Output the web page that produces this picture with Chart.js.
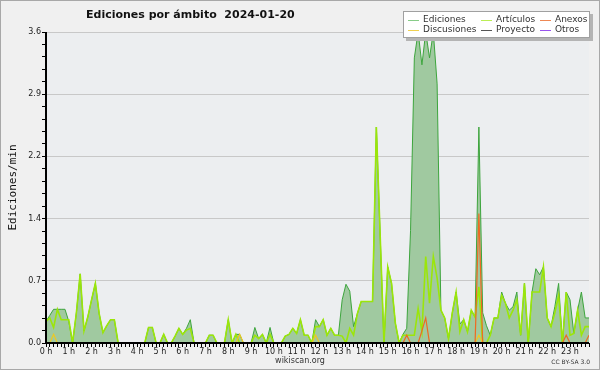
<!DOCTYPE html>
<html>
<head>
<meta charset="utf-8">
<script src="https://cdn.jsdelivr.net/npm/chart.js@4.4.1/dist/chart.umd.min.js"></script>
<style>
html, body { margin: 0; padding: 0; background: #f0f0f0; }
canvas { display: block; }
</style>
</head>
<body>
<canvas id="chart" width="600" height="370"></canvas>
<script>
// one value every 10 minutes, 0:00 -> 23:50 (144 slots)
const hourLabels = ['0 h','1 h','2 h','3 h','4 h','5 h','6 h','7 h','8 h','9 h','10 h','11 h',
  '12 h','13 h','14 h','15 h','16 h','17 h','18 h','19 h','20 h','21 h','22 h','23 h'];

const yTickLabels = ['0.0', '0.7', '1.4', '2.2', '2.9', '3.6'];

const ediciones = [
  0.25,0.32,0.39,0.39,0.39,0.39,0.25,0,0.35,0.80,0.14,0.30,
  0.50,0.69,0.34,0.12,0.20,0.27,0.27,0,0,0,0,0,
  0,0,0,0.18,0.18,0,0,0.10,0,0,0.08,0.17,
  0.10,0.17,0.27,0,0,0,0,0.09,0.09,0,0,0,
  0.27,0,0.10,0.10,0,0,0,0.18,0.05,0.10,0,0.18,
  0,0,0,0.08,0.10,0.17,0.11,0.27,0.09,0.09,0,0.27,
  0.19,0.27,0.09,0.17,0.09,0.09,0.50,0.68,0.60,0.19,0.34,0.48,
  0.48,0.48,0.48,2.50,1.25,0,0.88,0.69,0.23,0,0.10,0.17,
  1.30,3.30,3.60,3.22,3.60,3.30,3.60,3.00,0.38,0.29,0.05,0.35,
  0.59,0.22,0.27,0.13,0.38,0.30,2.50,0.35,0.20,0.09,0.29,0.29,
  0.59,0.46,0.38,0.42,0.59,0.09,0.69,0,0.59,0.86,0.79,0.88,
  0.29,0.19,0.42,0.69,0,0.59,0.50,0.11,0.38,0.59,0.29,0.29
];

const articulos = [
  0.25,0.29,0.18,0.39,0.27,0.27,0.27,0,0.35,0.80,0.14,0.30,
  0.50,0.69,0.34,0.12,0.20,0.27,0.27,0,0,0,0,0,
  0,0,0,0.18,0.18,0,0,0.10,0,0,0.08,0.17,
  0.10,0.15,0.17,0,0,0,0,0.09,0.09,0,0,0,
  0.27,0,0.10,0,0,0,0,0.09,0.05,0.10,0,0.10,
  0,0,0,0.08,0.10,0.17,0.11,0.27,0.09,0.09,0,0.19,
  0.19,0.27,0.09,0.17,0.09,0.09,0.08,0,0.17,0.09,0.34,0.48,
  0.48,0.48,0.48,2.50,1.25,0,0.88,0.69,0.23,0,0.09,0.09,
  0.09,0.09,0.40,0.13,1.00,0.46,1.00,0.75,0.38,0.29,0.05,0.35,
  0.59,0.13,0.27,0.13,0.38,0.30,0.65,0,0,0.09,0.29,0.29,
  0.55,0.46,0.29,0.38,0.50,0.09,0.69,0,0.59,0.59,0.59,0.88,
  0.29,0.19,0.35,0.55,0,0.59,0.09,0.11,0.38,0.09,0.19,0.19
];

const anexos = [
  0,0,0,0,0,0,0,0,0,0,0,0,
  0,0,0,0,0,0,0,0,0,0,0,0,
  0,0,0,0,0,0,0,0,0,0,0,0,
  0,0,0,0,0,0,0,0,0,0,0,0,
  0,0,0,0,0,0,0,0,0,0,0,0,
  0,0,0,0,0,0,0,0,0,0,0,0,
  0,0,0,0,0,0,0,0,0,0,0,0,
  0,0,0,0,0,0,0,0,0,0,0,0.09,
  0,0,0,0.14,0.29,0,0,0,0,0,0,0,
  0,0,0,0,0,0,1.50,0,0,0,0,0,
  0,0,0,0,0,0,0,0,0,0,0,0,
  0,0,0,0,0,0.09,0,0,0,0,0,0.09
];

const discusiones = [
  0,0,0.10,0,0,0,0,0,0,0,0,0,
  0,0,0,0,0,0,0,0,0,0,0,0,
  0,0,0,0,0,0,0,0,0,0,0,0,
  0,0,0,0,0,0,0,0,0,0,0,0,
  0,0,0,0.10,0,0,0,0,0,0,0,0,
  0,0,0,0,0,0,0,0,0,0,0,0.09,
  0,0,0,0,0,0,0,0,0,0,0,0,
  0,0,0,0,0,0,0,0,0,0,0,0,
  0,0,0,0,0,0,0,0,0,0,0,0,
  0,0,0,0,0,0,0.09,0,0,0,0,0,
  0,0,0,0,0,0,0,0,0,0,0,0,
  0,0,0,0,0,0,0,0,0,0,0,0
];

const proyecto = [
  0,0,0,0,0,0,0,0,0,0,0,0, 0,0,0,0,0,0,0,0,0,0,0,0,
  0,0,0,0,0,0,0,0,0,0,0,0, 0,0,0,0,0,0,0,0,0,0,0,0,
  0,0,0,0,0,0,0,0,0,0,0,0, 0,0,0,0,0,0,0,0,0,0,0,0,
  0,0,0,0,0,0,0,0,0,0,0,0, 0,0,0,0,0,0,0,0,0,0,0,0,
  0,0,0,0,0,0,0,0,0,0,0,0, 0,0,0,0,0,0,0,0,0,0,0,0,
  0,0,0,0,0,0,0,0,0,0,0,0, 0,0,0,0,0,0,0,0,0,0,0,0
];

const otros = [
  0,0,0,0,0,0,0,0,0,0,0,0, 0,0,0,0,0,0,0,0,0,0,0,0,
  0,0,0,0,0,0,0,0,0,0,0,0, 0,0,0,0,0,0,0,0,0,0,0,0,
  0,0,0,0,0,0,0,0,0,0,0,0, 0,0,0,0,0,0,0,0,0,0,0,0,
  0,0,0,0,0,0,0,0,0,0,0,0, 0,0,0,0,0,0,0,0,0,0,0,0,
  0,0,0,0,0,0,0,0,0,0,0,0, 0,0,0,0,0,0,0,0,0,0,0,0,
  0,0,0,0,0,0,0,0,0,0,0,0, 0,0,0,0,0,0,0,0,0,0,0,0
];

const toPoints = (arr) => arr.map((v, i) => ({x: i, y: v}));

const series = [
  {label: 'Ediciones',   data: ediciones,   color: '#3da53d', legend: '#88cc88', order: 6, width: 1, fill: true},
  {label: 'Artículos',   data: articulos,   color: '#9be60a', legend: '#bbee55', order: 3, width: 1.6},
  {label: 'Anexos',      data: anexos,      color: '#ee6a22', legend: '#ee8855', order: 1, width: 1.2},
  {label: 'Discusiones', data: discusiones, color: '#eec822', legend: '#f0d050', order: 2, width: 1.2},
  {label: 'Proyecto',    data: proyecto,    color: '#555555', legend: '#555555', order: 5, width: 1},
  {label: 'Otros',       data: otros,       color: '#9955ee', legend: '#9955ee', order: 4, width: 1}
];

const datasets = series.map(s => ({
  label: s.label,
  data: toPoints(s.data),
  borderColor: s.color,
  borderWidth: s.width,
  backgroundColor: s.fill ? '#a0c9a0' : s.color,
  fill: s.fill ? 'origin' : false,
  order: s.order,
  pointRadius: 0,
  tension: 0
}));

const decor = {
  id: 'decor',
  beforeDraw(chart) {
    const c = chart.ctx, a = chart.chartArea;
    c.save();
    c.fillStyle = '#f0f0f0';
    c.fillRect(0, 0, chart.width, chart.height);
    c.fillStyle = '#eceef0';
    c.fillRect(a.left, a.top, a.right - a.left, a.bottom - a.top);
    c.restore();
  },
  afterDraw(chart) {
    const c = chart.ctx, a = chart.chartArea;
    c.save();
    // axes lines drawn over the series so the zero lines sit under them
    c.strokeStyle = '#000';
    c.lineWidth = 2;
    c.beginPath();
    c.moveTo(a.left, a.top);
    c.lineTo(a.left, a.bottom);
    c.lineTo(a.right, a.bottom);
    c.stroke();

    // title
    c.fillStyle = '#111';
    c.font = 'bold 11px "DejaVu Sans"';
    c.textBaseline = 'alphabetic';
    c.textAlign = 'left';
    c.fillText('Ediciones por ámbito  2024-01-20', 86, 18);

    // y axis title
    c.save();
    c.translate(13, (a.top + a.bottom) / 2);
    c.rotate(-Math.PI / 2);
    c.textAlign = 'center';
    c.textBaseline = 'middle';
    c.font = '11px "DejaVu Sans Mono"';
    c.fillStyle = '#111';
    c.fillText('Ediciones/min', 0, 0);
    c.restore();

    // legend box
    c.fillStyle = '#b4b4b4';
    c.fillRect(406, 14, 187, 27);
    c.fillStyle = '#ffffff';
    c.fillRect(403, 11, 187, 27);
    c.strokeStyle = '#a0a0a0';
    c.lineWidth = 1;
    c.strokeRect(403.5, 11.5, 186, 26);
    const colX = [408, 481, 540];
    const rowY = [20, 30];
    c.font = '9px "DejaVu Sans"';
    c.textBaseline = 'middle';
    c.textAlign = 'left';
    series.forEach((s, i) => {
      const x = colX[i % 3], y = rowY[Math.floor(i / 3)];
      c.strokeStyle = s.legend;
      c.lineWidth = 1;
      c.beginPath();
      c.moveTo(x, y + 0.5);
      c.lineTo(x + 11, y + 0.5);
      c.stroke();
      c.fillStyle = '#333';
      c.fillText(s.label, x + 15, y);
    });

    // footer
    c.fillStyle = '#333';
    c.font = '8px "DejaVu Sans"';
    c.textAlign = 'center';
    c.textBaseline = 'middle';
    c.fillText('wikiscan.org', 300, 361);
    c.font = '6px "DejaVu Sans"';
    c.textAlign = 'right';
    c.fillText('CC BY-SA 3.0', 590, 362);

    // outer frame
    c.strokeStyle = '#a8a8a8';
    c.lineWidth = 1;
    c.strokeRect(0.5, 0.5, chart.width - 1, chart.height - 1);
    c.restore();
  }
};

const ctx = document.getElementById('chart').getContext('2d');

const myChart = new Chart(ctx, {
  type: 'line',
  data: { datasets },
  options: {
    responsive: false,
    animation: false,
    devicePixelRatio: 1,
    layout: { padding: { top: 32, right: 11, bottom: 0, left: 0 } },
    plugins: {
      legend: { display: false },
      tooltip: { enabled: false }
    },
    scales: {
      x: {
        type: 'linear',
        min: 0,
        max: 143,
        afterFit: (s) => { s.height = 27; },
        ticks: {
          stepSize: 1,
          autoSkip: false,
          maxRotation: 0,
          minRotation: 0,
          padding: 0,
          color: '#222',
          font: { family: 'DejaVu Sans', size: 8 },
          callback: (v) => (v % 6 === 0 ? hourLabels[v / 6] : '')
        },
        grid: { drawOnChartArea: false, tickLength: 4, tickColor: '#000' },
        border: { color: '#000' }
      },
      y: {
        min: 0,
        max: 3.6,
        afterFit: (s) => { s.width = 46; },
        ticks: {
          stepSize: 0.144,
          autoSkip: false,
          padding: 1,
          color: '#222',
          font: { family: 'DejaVu Sans', size: 8 },
          callback: (v, i) => (i % 5 === 0 ? yTickLabels[i / 5] : '')
        },
        grid: {
          color: (c) => (c.index % 5 === 0 ? '#c8c8c8' : 'rgba(0,0,0,0)'),
          tickColor: '#000',
          tickLength: 4
        },
        border: { color: '#000' }
      }
    }
  },
  plugins: [decor]
});
</script>
</body>
</html>
